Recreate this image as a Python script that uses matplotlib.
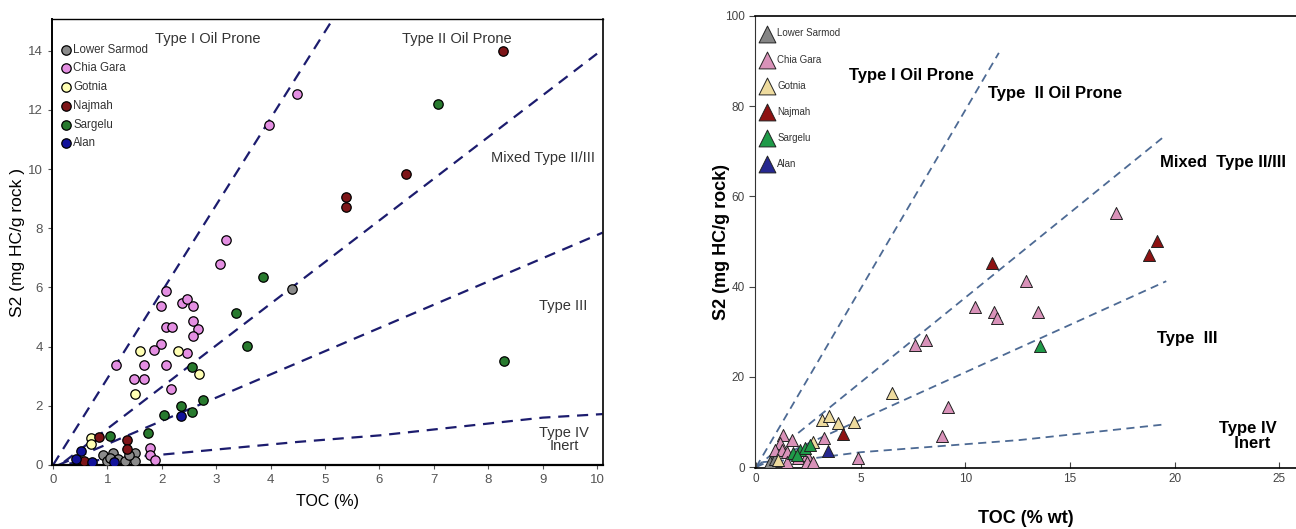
import numpy as np
import matplotlib
matplotlib.use('Agg')
import matplotlib.pyplot as plt

plt.rcParams['font.family'] = ['Liberation Sans', 'DejaVu Sans']

#formation names
formations = ['Lower Sarmod', 'Chia Gara', 'Gotnia', 'Najmah', 'Sargelu', 'Alan']

#left plot data (TOC %, S2)
lower_sarmod_toc = [4.40, 0.91, 1.11, 0.99, 1.20, 1.51, 1.51, 1.32, 1.40, 1.05]
lower_sarmod_s2 = [5.94, 0.34, 0.40, 0.13, 0.20, 0.40, 0.13, 0.13, 0.35, 0.25]
chia_gara_toc = [4.49, 3.97, 3.18, 3.07, 2.07, 1.98, 2.37, 2.47, 2.58, 2.07, 2.18, 2.57, 2.67,
                 2.57, 1.98, 1.86, 2.47, 1.16, 1.67, 2.07, 1.48, 1.67, 2.17, 1.78, 1.78, 1.87]
chia_gara_s2 = [12.53, 11.5, 7.6, 6.8, 5.88, 5.37, 5.47, 5.6, 5.37, 4.66, 4.66, 4.86, 4.59,
                4.36, 4.08, 3.88, 3.78, 3.38, 3.38, 3.38, 2.9, 2.9, 2.57, 0.57, 0.35, 0.17]
gotnia_toc = [1.60, 2.30, 2.69, 1.51, 0.69, 0.69]
gotnia_s2 = [3.85, 3.85, 3.07, 2.40, 0.90, 0.70]
najmah_toc = [8.27, 6.49, 5.39, 5.39, 0.85, 1.36, 1.36, 0.56]
najmah_s2 = [14.0, 9.85, 9.05, 8.72, 0.95, 0.84, 0.54, 0.14]
sargelu_toc = [7.08, 8.29, 3.86, 3.36, 3.56, 2.55, 2.75, 2.35, 2.55, 2.04, 1.75, 1.05]
sargelu_s2 = [12.2, 3.52, 6.36, 5.14, 4.02, 3.30, 2.20, 2.00, 1.79, 1.69, 1.09, 0.98]
alan_toc = [2.35, 0.51, 0.42, 0.71, 1.12]
alan_s2 = [1.66, 0.47, 0.20, 0.10, 0.10]

#right plot data (TOC % wt, S2)
r_lower_sarmod_toc = [0.8, 0.67, 0.9]
r_lower_sarmod_s2 = [1.5, 1.1, 1.8]
r_chia_gara_toc = [17.2, 12.9, 10.45, 11.36, 11.5, 13.46, 7.59, 8.1, 9.17, 8.88, 3.25, 4.87,
                   1.29, 1.72, 1.15, 0.9, 1.24, 1.48, 1.48, 2.0, 2.43, 2.43, 2.72]
r_chia_gara_s2 = [56.3, 41.2, 35.5, 34.4, 33.0, 34.4, 27.0, 28.2, 13.3, 6.9, 6.4, 2.0,
                  7.1, 6.0, 5.3, 3.8, 3.8, 3.3, 1.1, 2.0, 2.7, 1.1, 1.1]
r_gotnia_toc = [6.5, 3.15, 3.5, 3.9, 4.68, 2.72, 1.05]
r_gotnia_s2 = [16.4, 10.4, 11.3, 9.8, 10.0, 5.6, 1.5]
r_najmah_toc = [11.27, 19.15, 18.76, 4.15]
r_najmah_s2 = [45.2, 50.1, 47.0, 7.4]
r_sargelu_toc = [13.56, 1.77, 2.1, 2.34, 2.58, 1.96]
r_sargelu_s2 = [26.8, 3.2, 3.8, 4.2, 5.0, 2.7]
r_alan_toc = [3.44]
r_alan_s2 = [3.5]

#kerogen type boundary lines
left_bounds = [
    ([0.0, 5.12], [0.0, 15.0]),
    ([0.2, 10.0], [0.1, 13.9]),
    ([0.1, 10.1], [0.0, 7.85]),
    ([0.3, 1.0, 2.0, 4.5, 6.0, 8.0, 9.0, 10.1], [0.05, 0.2, 0.35, 0.78, 1.0, 1.4, 1.6, 1.72]),
]
right_bounds = [
    ([0.0, 11.6], [0.0, 91.8]),
    ([0.0, 19.4], [0.0, 72.9]),
    ([0.0, 19.6], [0.0, 41.2]),
    ([0.3, 2.8, 5.0, 12.6, 19.6], [1.1, 2.0, 3.3, 6.0, 9.5]),
]

left_colors = ['#8a8a8a', '#e48fe2', '#ffffb3', '#7d1518', '#287a2e', '#12129a']
right_colors = ['#858585', '#d992b9', '#eedb9e', '#8e1212', '#1f9a48', '#26288f']

left_sets = [(lower_sarmod_toc, lower_sarmod_s2), (chia_gara_toc, chia_gara_s2),
             (gotnia_toc, gotnia_s2), (najmah_toc, najmah_s2),
             (sargelu_toc, sargelu_s2), (alan_toc, alan_s2)]
right_sets = [(r_lower_sarmod_toc, r_lower_sarmod_s2), (r_chia_gara_toc, r_chia_gara_s2),
              (r_gotnia_toc, r_gotnia_s2), (r_najmah_toc, r_najmah_s2),
              (r_sargelu_toc, r_sargelu_s2), (r_alan_toc, r_alan_s2)]

fig = plt.figure(figsize=(12.96, 5.29), dpi=100)

#left plot
ax1 = fig.add_axes([0.0401, 0.121, 0.4252, 0.843])
for bx, by in left_bounds:
    ax1.plot(bx, by, color='#1c1c6e', lw=1.6, dashes=(5, 3.5), zorder=1)
for (tx, sy), c, name in zip(left_sets, left_colors, formations):
    ax1.scatter(tx, sy, s=46, color=c, edgecolor='black', linewidth=0.9, zorder=3, label=name)

ax1.set_xlim(-0.02, 10.11)
ax1.set_ylim(0, 15.07)
ax1.set_xticks(range(0, 11))
ax1.set_yticks(range(0, 15, 2))
ax1.tick_params(direction='out', length=3, width=0.8, colors='#555555', labelsize=9.5)
for s in ax1.spines.values():
    s.set_color('black')
ax1.spines['left'].set_linewidth(1.4)
ax1.spines['bottom'].set_linewidth(1.6)
ax1.spines['top'].set_linewidth(1.0)
ax1.spines['right'].set_linewidth(1.2)
ax1.set_xlabel('TOC (%)', fontsize=11.5, labelpad=6)
ax1.set_ylabel('S2 (mg HC/g rock )', fontsize=12.5, labelpad=2)

txt = dict(color='#333333', fontsize=10.5, ha='center', va='center')
ax1.text(2.84, 14.4, 'Type I Oil Prone', **txt)
ax1.text(7.42, 14.4, 'Type II Oil Prone', **txt)
ax1.text(9.0, 10.37, 'Mixed Type II/III', **txt)
ax1.text(9.37, 5.37, 'Type III', **txt)
ax1.text(9.4, 0.87, 'Type IV\nInert', linespacing=0.95, **txt)

ax1.legend(loc='upper left', bbox_to_anchor=(0.0, 0.96), frameon=False, fontsize=8.3,
           handletextpad=0.05, labelspacing=0.58, borderaxespad=0.2, handlelength=1.2,
           scatterpoints=1, labelcolor='#333333')

#right plot
ax2 = fig.add_axes([0.5826, 0.1153, 0.4174, 0.8547])
for bx, by in right_bounds:
    ax2.plot(bx, by, color='#4d6a94', lw=1.3, dashes=(4.5, 3), zorder=1)
for (tx, sy), c, name in zip(right_sets, right_colors, formations):
    ax2.scatter(tx, sy, s=75, marker='^', color=c, edgecolor='#222222', linewidth=0.7,
                zorder=3, label=name)

ax2.set_xlim(-0.05, 25.8)
ax2.set_ylim(-0.2, 100)
ax2.set_xticks(range(0, 26, 5))
ax2.set_yticks(range(0, 101, 20))
ax2.tick_params(axis='y', direction='out', length=4, width=0.8, colors='#444444', labelsize=8.5)
ax2.tick_params(axis='x', direction='in', length=4, width=0.8, colors='#444444', labelsize=8.5)
ax2.spines['right'].set_visible(False)
ax2.spines['left'].set_color('#333333')
ax2.spines['top'].set_linewidth(1.2)
ax2.spines['bottom'].set_linewidth(1.2)
ax2.set_xlabel('TOC (% wt)', fontsize=13, fontweight='bold', labelpad=18)
ax2.set_ylabel('S2 (mg HC/g rock)', fontsize=13, fontweight='bold', labelpad=-4)

btxt = dict(color='black', fontsize=12, fontweight='bold', ha='center', va='center')
ax2.text(7.4, 86.7, 'Type I Oil Prone', **btxt)
ax2.text(14.3, 82.9, 'Type  II Oil Prone', **btxt)
ax2.text(22.3, 67.4, 'Mixed  Type II/III', **btxt)
ax2.text(20.6, 28.6, 'Type  III', **btxt)
ax2.text(23.5, 6.9, 'Type IV\n  Inert', linespacing=1.0, **btxt)

ax2.legend(loc='upper left', bbox_to_anchor=(0.0, 0.985), frameon=False, fontsize=7,
           handletextpad=0.5, labelspacing=1.65, borderaxespad=0.2, handlelength=1.2,
           scatterpoints=1, markerscale=1.4, labelcolor='#333333')

fig.savefig('out.png', dpi=100)
